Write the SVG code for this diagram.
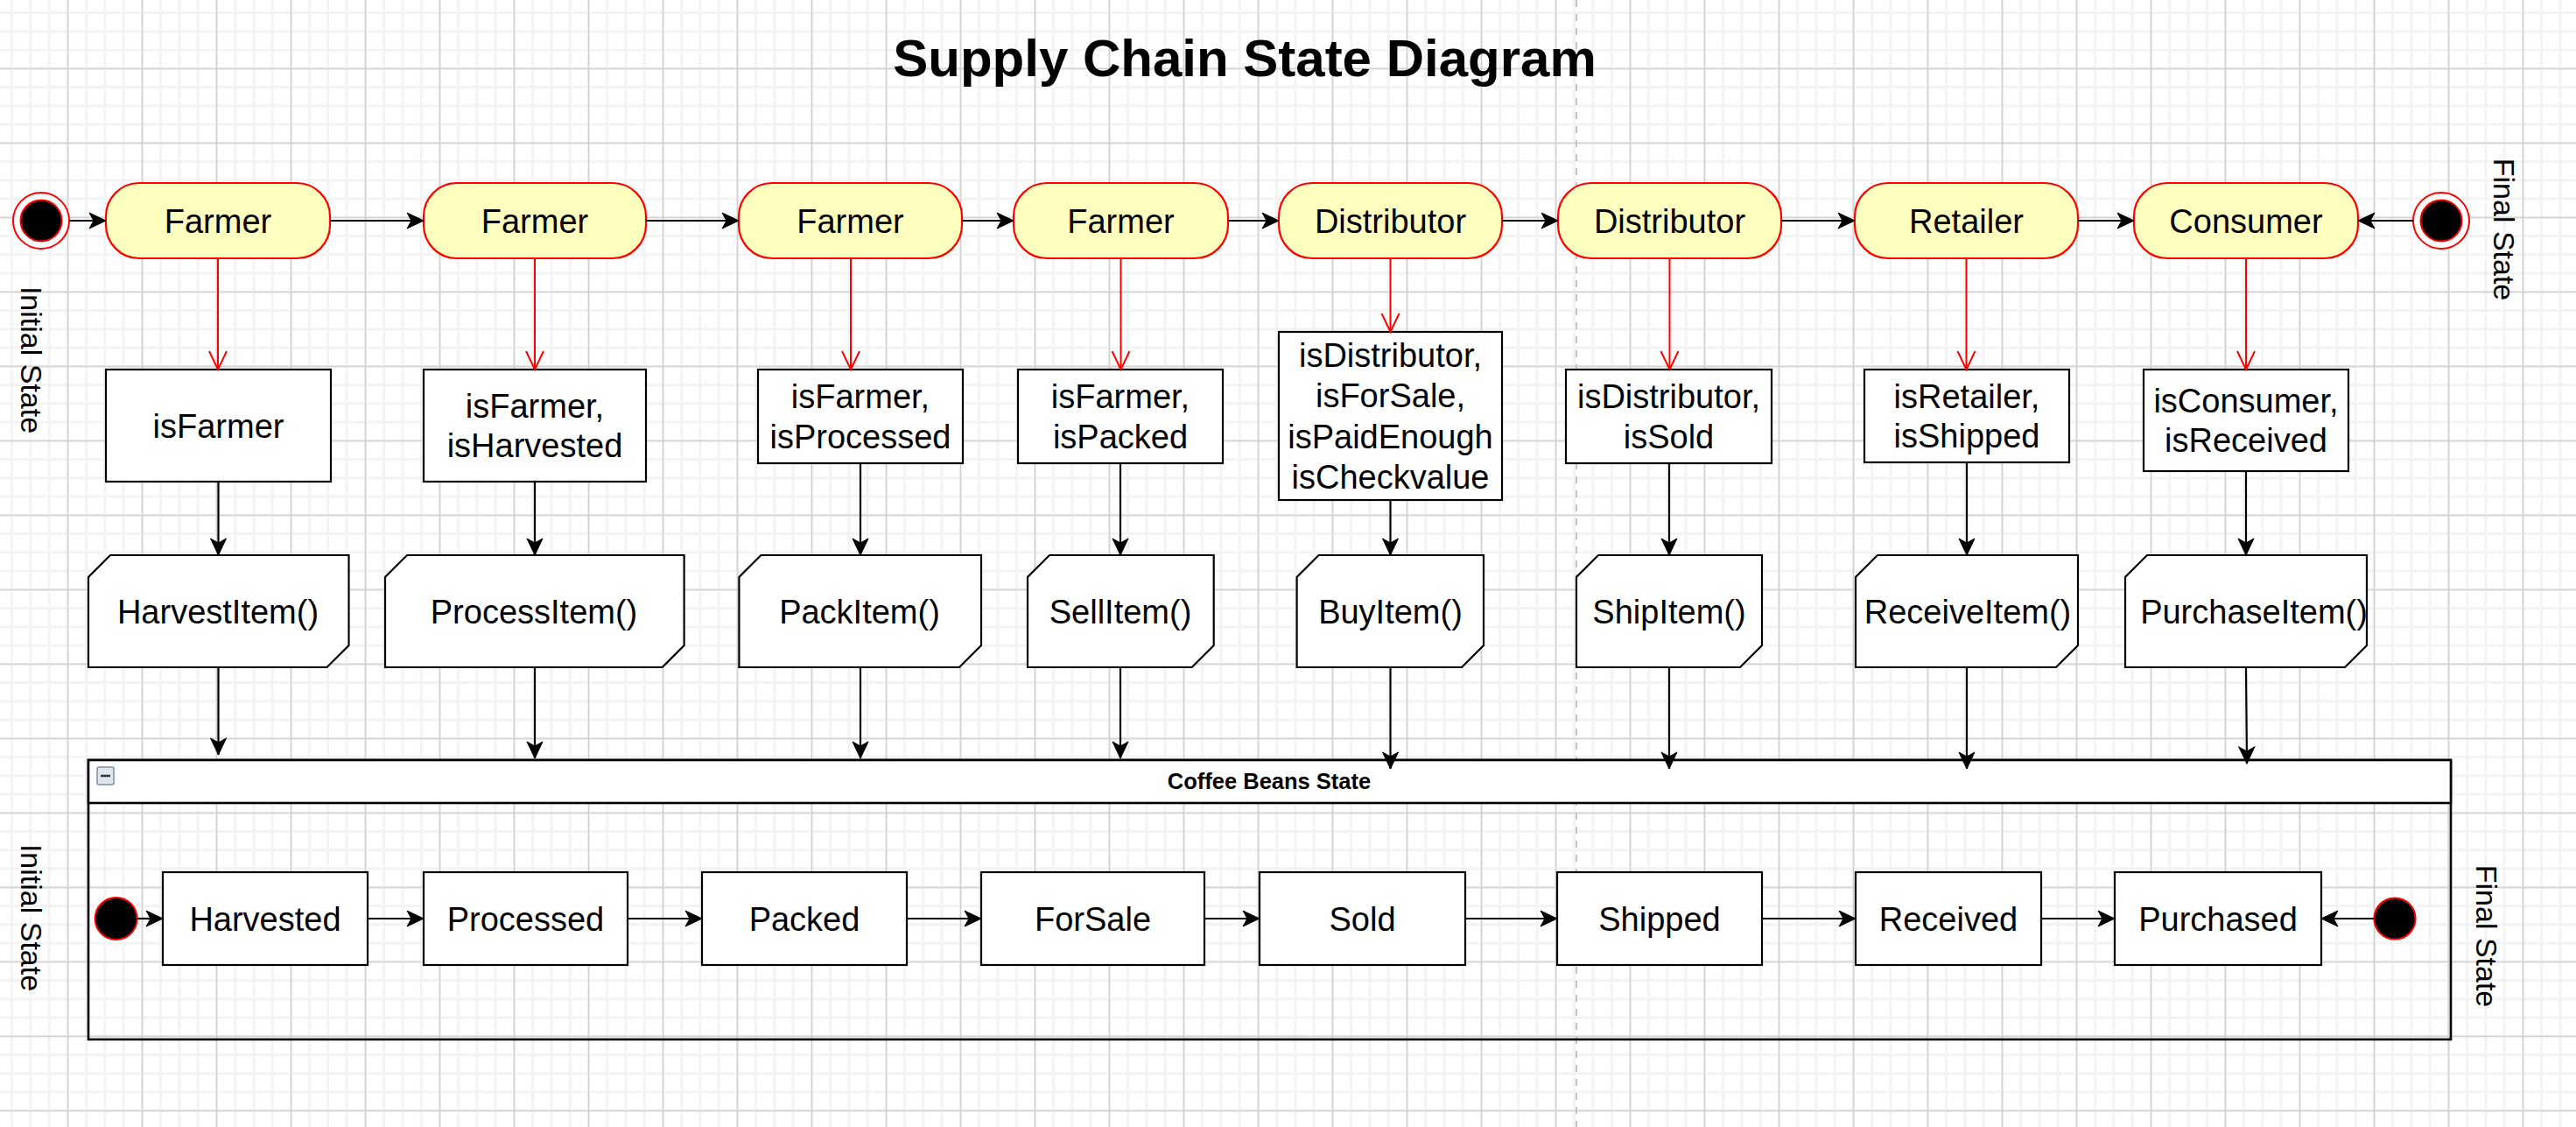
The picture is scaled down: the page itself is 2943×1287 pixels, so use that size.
<svg xmlns="http://www.w3.org/2000/svg" width="2943" height="1287" viewBox="0 0 2943 1287">
<style>
.t{font-family:"Liberation Sans",Arial,Helvetica,sans-serif;font-size:38px;fill:#000;text-anchor:middle}
.side{font-family:"Liberation Sans",Arial,Helvetica,sans-serif;font-size:34px;fill:#000;text-anchor:middle}
.title{font-family:"Liberation Sans",Arial,Helvetica,sans-serif;font-size:60px;font-weight:bold;fill:#000;text-anchor:middle}
.hdr{font-family:"Liberation Sans",Arial,Helvetica,sans-serif;font-size:25.5px;font-weight:bold;fill:#000;text-anchor:middle}
.state{fill:#FFFFC0;stroke:#FF0000;stroke-width:2.2}
.box{fill:#fff;stroke:#000;stroke-width:2.2}
.blk{fill:none;stroke:#000;stroke-width:2.2}
.red{fill:none;stroke:#FF0000;stroke-width:2}
</style>
<defs>
<pattern id="gMinor" patternUnits="userSpaceOnUse" x="12.15" y="13.05" width="21.25" height="21.25">
<rect x="0" y="0" width="21.25" height="3" fill="#f3f3f3"/>
<rect x="0" y="0" width="3" height="21.25" fill="#f3f3f3"/>
</pattern>
<pattern id="gMajor" patternUnits="userSpaceOnUse" x="76.8" y="77.7" width="85" height="85">
<rect x="0" y="0" width="85" height="1.3" fill="#cbcbcb"/>
<rect x="0" y="0" width="1.3" height="85" fill="#cbcbcb"/>
</pattern>
<marker id="arr" markerUnits="userSpaceOnUse" markerWidth="22" markerHeight="22" viewBox="-20 -11 22 22" refX="0" refY="0" orient="auto">
<path d="M0,0 L-19,-9 L-14,0 L-19,9 Z" fill="#000" stroke="#000" stroke-width="1"/>
</marker>
<marker id="open" markerUnits="userSpaceOnUse" markerWidth="26" markerHeight="26" viewBox="-23 -12 26 24" refX="0" refY="0" orient="auto">
<path d="M-21,-10 L0,0 L-21,10" fill="none" stroke="#FF0000" stroke-width="2"/>
</marker>
</defs>

<g id="background">
<rect x="0" y="0" width="2943" height="1287" fill="#fff"/>
<rect x="0" y="0" width="2943" height="1287" fill="url(#gMinor)"/>
<rect x="0" y="0" width="2943" height="1287" fill="url(#gMajor)"/>
<line x1="1801" y1="0" x2="1801" y2="1287" stroke="#c4c4c4" stroke-width="2" stroke-dasharray="8 8"/>
</g>

<g id="title"><text class="title" x="1422" y="87">Supply Chain State Diagram</text></g>

<g id="labels">
<text class="side" transform="translate(35.5,411) rotate(90)" y="12">Initial State</text>
<text class="side" transform="translate(35.5,1048) rotate(90)" y="12">Initial State</text>
<text class="side" transform="translate(2861,262) rotate(90)" y="12">Final State</text>
<text class="side" transform="translate(2841,1069) rotate(90)" y="12">Final State</text>
</g>

<g id="container">
<rect x="101" y="868" width="2699" height="319" fill="none" stroke="#000" stroke-width="2.6"/>
<rect x="101" y="868" width="2699" height="49" fill="#fff" stroke="#000" stroke-width="2.6"/>
<rect x="111" y="876" width="19" height="20" rx="2" fill="#dfe6ee" stroke="#7d8ea3" stroke-width="1.5"/>
<line x1="115" y1="886" x2="126" y2="886" stroke="#333" stroke-width="2.5"/>
<text class="hdr" x="1450" y="901">Coffee Beans State</text>
</g>

<g id="start-top"><circle cx="47" cy="252" r="32" fill="#fff" stroke="#FF0000" stroke-width="2"/><circle cx="47" cy="252" r="23.5" fill="#000" stroke="#FF0000" stroke-width="2"/></g>
<g id="final-top"><circle cx="2789" cy="252" r="32" fill="#fff" stroke="#FF0000" stroke-width="2"/><circle cx="2789" cy="252" r="23.5" fill="#000" stroke="#FF0000" stroke-width="2"/></g>

<g id="s1"><rect class="state" x="121" y="209" width="256" height="86" rx="38"/><text class="t" x="249" y="265.6">Farmer</text></g>
<g id="s2"><rect class="state" x="484" y="209" width="254" height="86" rx="38"/><text class="t" x="611" y="265.6">Farmer</text></g>
<g id="s3"><rect class="state" x="844" y="209" width="255" height="86" rx="38"/><text class="t" x="971.5" y="265.6">Farmer</text></g>
<g id="s4"><rect class="state" x="1158" y="209" width="245" height="86" rx="38"/><text class="t" x="1280.5" y="265.6">Farmer</text></g>
<g id="s5"><rect class="state" x="1461" y="209" width="255" height="86" rx="38"/><text class="t" x="1588.5" y="265.6">Distributor</text></g>
<g id="s6"><rect class="state" x="1780" y="209" width="255" height="86" rx="38"/><text class="t" x="1907.5" y="265.6">Distributor</text></g>
<g id="s7"><rect class="state" x="2119" y="209" width="255" height="86" rx="38"/><text class="t" x="2246.5" y="265.6">Retailer</text></g>
<g id="s8"><rect class="state" x="2438" y="209" width="256" height="86" rx="38"/><text class="t" x="2566" y="265.6">Consumer</text></g>

<g id="g1"><rect class="box" x="121" y="422" width="257" height="128"/><text class="t" x="249.5" y="499.6">isFarmer</text></g>
<g id="g2"><rect class="box" x="484" y="422" width="254" height="128"/><text class="t" x="611" y="476.8">isFarmer,</text><text class="t" x="611" y="522.3">isHarvested</text></g>
<g id="g3"><rect class="box" x="866" y="422" width="234" height="107"/><text class="t" x="983" y="466.3">isFarmer,</text><text class="t" x="983" y="511.8">isProcessed</text></g>
<g id="g4"><rect class="box" x="1163" y="422" width="234" height="107"/><text class="t" x="1280" y="466.3">isFarmer,</text><text class="t" x="1280" y="511.8">isPacked</text></g>
<g id="g5"><rect class="box" x="1461" y="379" width="255" height="192"/><text class="t" x="1588.5" y="418.8">isDistributor,</text><text class="t" x="1588.5" y="465.3">isForSale,</text><text class="t" x="1588.5" y="511.8">isPaidEnough</text><text class="t" x="1588.5" y="558.3">isCheckvalue</text></g>
<g id="g6"><rect class="box" x="1789" y="422" width="235" height="107"/><text class="t" x="1906.5" y="466.3">isDistributor,</text><text class="t" x="1906.5" y="511.8">isSold</text></g>
<g id="g7"><rect class="box" x="2130" y="422" width="234" height="106"/><text class="t" x="2247" y="465.8">isRetailer,</text><text class="t" x="2247" y="511.3">isShipped</text></g>
<g id="g8"><rect class="box" x="2449" y="422" width="234" height="116"/><text class="t" x="2566" y="470.8">isConsumer,</text><text class="t" x="2566" y="516.3">isReceived</text></g>

<g id="a1"><path class="box" d="M126,634 H398.5 V737 L373.5,762 H101 V659 Z"/><text class="t" x="249" y="711.6">HarvestItem()</text></g>
<g id="a2"><path class="box" d="M465,634 H781.6 V737 L756.6,762 H440 V659 Z"/><text class="t" x="610" y="711.6">ProcessItem()</text></g>
<g id="a3"><path class="box" d="M869.4,634 H1121 V737 L1096,762 H844.4 V659 Z"/><text class="t" x="982" y="711.6">PackItem()</text></g>
<g id="a4"><path class="box" d="M1199,634 H1386.7 V737 L1361.7,762 H1174 V659 Z"/><text class="t" x="1280" y="711.6">SellItem()</text></g>
<g id="a5"><path class="box" d="M1506.6,634 H1695 V737 L1670,762 H1481.6 V659 Z"/><text class="t" x="1588.5" y="711.6">BuyItem()</text></g>
<g id="a6"><path class="box" d="M1826,634 H2013 V737 L1988,762 H1801 V659 Z"/><text class="t" x="1907" y="711.6">ShipItem()</text></g>
<g id="a7"><path class="box" d="M2145,634 H2374 V737 L2349,762 H2120 V659 Z"/><text class="t" x="2248" y="711.6">ReceiveItem()</text></g>
<g id="a8"><path class="box" d="M2453,634 H2704 V737 L2679,762 H2428 V659 Z"/><text class="t" x="2575" y="711.6">PurchaseItem()</text></g>

<g id="start-bottom"><circle cx="132.6" cy="1049" r="24" fill="#000" stroke="#FF0000" stroke-width="2"/></g>
<g id="final-bottom"><circle cx="2736" cy="1049" r="23.6" fill="#000" stroke="#FF0000" stroke-width="2"/></g>

<g id="b1"><rect class="box" x="186" y="996" width="234" height="106"/><text class="t" x="303" y="1062.6">Harvested</text></g>
<g id="b2"><rect class="box" x="484" y="996" width="233" height="106"/><text class="t" x="600.5" y="1062.6">Processed</text></g>
<g id="b3"><rect class="box" x="802" y="996" width="234" height="106"/><text class="t" x="919" y="1062.6">Packed</text></g>
<g id="b4"><rect class="box" x="1121" y="996" width="255" height="106"/><text class="t" x="1248.5" y="1062.6">ForSale</text></g>
<g id="b5"><rect class="box" x="1439" y="996" width="235" height="106"/><text class="t" x="1556.5" y="1062.6">Sold</text></g>
<g id="b6"><rect class="box" x="1779" y="996" width="234" height="106"/><text class="t" x="1896" y="1062.6">Shipped</text></g>
<g id="b7"><rect class="box" x="2120" y="996" width="212" height="106"/><text class="t" x="2226" y="1062.6">Received</text></g>
<g id="b8"><rect class="box" x="2416" y="996" width="236" height="106"/><text class="t" x="2534" y="1062.6">Purchased</text></g>

<g id="connectors">
<g class="blk" marker-end="url(#arr)">
<line x1="79" y1="252" x2="121" y2="252"/>
<line x1="377" y1="252" x2="484" y2="252"/>
<line x1="738" y1="252" x2="844" y2="252"/>
<line x1="1099" y1="252" x2="1158" y2="252"/>
<line x1="1403" y1="252" x2="1461" y2="252"/>
<line x1="1716" y1="252" x2="1780" y2="252"/>
<line x1="2035" y1="252" x2="2119" y2="252"/>
<line x1="2374" y1="252" x2="2438" y2="252"/>
<line x1="2757" y1="252" x2="2694" y2="252"/>
<line x1="249.5" y1="550" x2="249.5" y2="634"/>
<line x1="611" y1="550" x2="611" y2="634"/>
<line x1="983" y1="529" x2="983" y2="634"/>
<line x1="1280" y1="529" x2="1280" y2="634"/>
<line x1="1588.5" y1="571" x2="1588.5" y2="634"/>
<line x1="1907" y1="529" x2="1907" y2="634"/>
<line x1="2247" y1="528" x2="2247" y2="634"/>
<line x1="2566" y1="538" x2="2566" y2="634"/>
<line x1="249.5" y1="762" x2="249.5" y2="862"/>
<line x1="611" y1="762" x2="611" y2="866"/>
<line x1="983" y1="762" x2="983" y2="866"/>
<line x1="1280" y1="762" x2="1280" y2="866"/>
<line x1="1588.5" y1="762" x2="1588.5" y2="878"/>
<line x1="1907" y1="762" x2="1907" y2="878"/>
<line x1="2247" y1="762" x2="2247" y2="878"/>
<line x1="2566" y1="762" x2="2567" y2="872"/>
<line x1="156.6" y1="1049" x2="186" y2="1049"/>
<line x1="420" y1="1049" x2="484" y2="1049"/>
<line x1="717" y1="1049" x2="802" y2="1049"/>
<line x1="1036" y1="1049" x2="1121" y2="1049"/>
<line x1="1376" y1="1049" x2="1439" y2="1049"/>
<line x1="1674" y1="1049" x2="1779" y2="1049"/>
<line x1="2013" y1="1049" x2="2120" y2="1049"/>
<line x1="2332" y1="1049" x2="2416" y2="1049"/>
<line x1="2712.4" y1="1049" x2="2652" y2="1049"/>
</g>
<g class="red" marker-end="url(#open)">
<line x1="249" y1="295" x2="249" y2="422"/>
<line x1="611" y1="295" x2="611" y2="422"/>
<line x1="972" y1="295" x2="972" y2="422"/>
<line x1="1280.5" y1="295" x2="1280.5" y2="422"/>
<line x1="1588.5" y1="295" x2="1588.5" y2="379"/>
<line x1="1907.5" y1="295" x2="1907.5" y2="422"/>
<line x1="2246.5" y1="295" x2="2246.5" y2="422"/>
<line x1="2566" y1="295" x2="2566" y2="422"/>
</g>
</g>
</svg>
